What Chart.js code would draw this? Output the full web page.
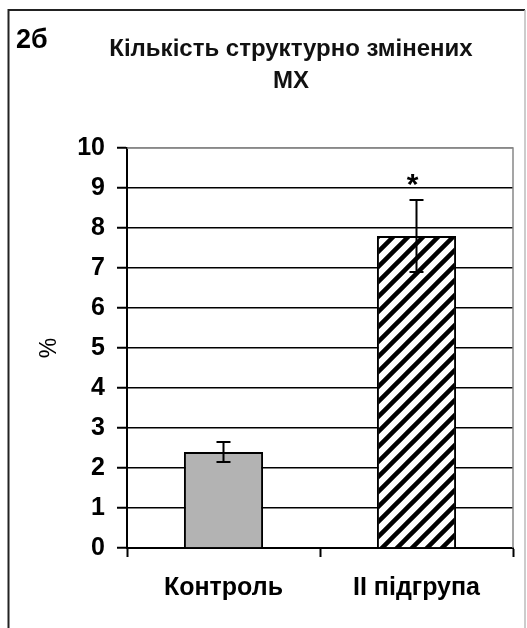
<!DOCTYPE html>
<html>
<head>
<meta charset="utf-8">
<script src="https://cdn.jsdelivr.net/npm/chart.js@4.4.0/dist/chart.umd.min.js"></script>
<style>
html,body{margin:0;padding:0;background:#fff;}
#wrap{width:527px;height:628px;position:relative;}
</style>
</head>
<body>
<div id="wrap"><canvas id="c" width="527" height="628"></canvas></div>
<script>
const categories = ['Контроль', 'II підгрупа'];
const values = [2.4, 7.8];
const errors = [0.25, 0.9];
const significance = ['', '*'];
const yTicks = [0, 1, 2, 3, 4, 5, 6, 7, 8, 9, 10];
const titleLines = ['Кількість структурно змінених', 'МХ'];
const panelLabel = '2б';
const yLabel = '%';

const FONT = '"Liberation Sans", Arial, sans-serif';

function hatchPattern() {
  const s = 15;
  const c = document.createElement('canvas');
  c.width = s; c.height = s;
  const g = c.getContext('2d');
  g.fillStyle = '#fff';
  g.fillRect(0, 0, s, s);
  g.strokeStyle = '#000';
  g.lineWidth = 4.5;
  g.beginPath();
  g.moveTo(-s, s * 2); g.lineTo(s * 2, -s);
  g.moveTo(-s * 2, s); g.lineTo(s, -s * 2);
  g.moveTo(0, s * 2); g.lineTo(s * 2, 0);
  g.moveTo(-s, s); g.lineTo(s, -s);
  g.moveTo(0, s); g.lineTo(s, 0);
  g.stroke();
  return g.createPattern(c, 'repeat');
}

const marks = {
  id: 'marks',
  beforeDraw(chart) {
    const ctx = chart.ctx;
    ctx.save();
    ctx.fillStyle = '#fff';
    ctx.fillRect(0, 0, chart.width, chart.height);
    ctx.restore();
  },
  afterDatasetsDraw(chart) {
    const ctx = chart.ctx;
    const meta = chart.getDatasetMeta(0);
    const y = chart.scales.y;
    const a = chart.chartArea;
    ctx.save();
    ctx.strokeStyle = '#888';
    ctx.lineWidth = 1.5;
    ctx.beginPath();
    ctx.moveTo(a.left, a.top);
    ctx.lineTo(a.right, a.top);
    ctx.lineTo(a.right, a.bottom);
    ctx.stroke();
    ctx.strokeStyle = '#000';
    ctx.lineWidth = 2;
    meta.data.forEach((bar, i) => {
      const x = bar.x;
      const yHi = y.getPixelForValue(values[i] + errors[i]);
      const yLo = y.getPixelForValue(values[i] - errors[i]);
      ctx.beginPath();
      ctx.moveTo(x, yHi); ctx.lineTo(x, yLo);
      ctx.moveTo(x - 7, yHi); ctx.lineTo(x + 7, yHi);
      ctx.moveTo(x - 7, yLo); ctx.lineTo(x + 7, yLo);
      ctx.stroke();
      if (significance[i]) {
        ctx.fillStyle = '#000';
        ctx.font = 'bold 30px ' + FONT;
        ctx.textAlign = 'center';
        ctx.textBaseline = 'alphabetic';
        ctx.fillText(significance[i], x - 4, yHi - 6);
      }
    });
    ctx.restore();
  },
  afterDraw(chart) {
    const ctx = chart.ctx;
    ctx.save();
    ctx.lineWidth = 2;
    ctx.strokeStyle = '#222';
    ctx.beginPath();
    ctx.moveTo(8.5, chart.height);
    ctx.lineTo(8.5, 10);
    ctx.lineTo(525, 10);
    ctx.stroke();
    ctx.strokeStyle = '#bbb';
    ctx.lineWidth = 1.5;
    ctx.beginPath();
    ctx.moveTo(525, 10);
    ctx.lineTo(525, chart.height);
    ctx.stroke();
    ctx.fillStyle = '#000';
    ctx.textBaseline = 'alphabetic';
    ctx.font = 'bold 27px ' + FONT;
    ctx.textAlign = 'left';
    ctx.fillText(panelLabel, 16, 48);
    ctx.fillStyle = '#111';
    ctx.textAlign = 'center';
    ctx.font = 'bold 24px ' + FONT;
    ctx.fillText(titleLines[0], 291, 56);
    ctx.fillText(titleLines[1], 291, 88);
    ctx.restore();
  }
};

new Chart(document.getElementById('c'), {
  type: 'bar',
  data: {
    labels: categories,
    datasets: [{
      data: values,
      backgroundColor: ['#b3b3b3', hatchPattern()],
      borderColor: '#000',
      borderWidth: 2,
      barPercentage: 0.41,
      categoryPercentage: 1.0
    }]
  },
  options: {
    responsive: false,
    animation: false,
    events: [],
    layout: { padding: { top: 148, right: 14, left: 0, bottom: 0 } },
    plugins: { legend: { display: false }, tooltip: { enabled: false }, title: { display: false } },
    scales: {
      x: {
        grid: { offset: true, drawOnChartArea: false, tickLength: 9, tickColor: '#000', tickWidth: 2 },
        border: { display: true, color: '#000', width: 2 },
        ticks: { color: '#000', font: { family: FONT, size: 25, weight: 'bold' }, padding: 16, maxRotation: 0 },
        afterFit(s) { s.height = 80; }
      },
      y: {
        min: 0, max: 10,
        afterBuildTicks(s) { s.ticks = yTicks.map(v => ({ value: v })); },
        grid: {
          color: ctx => (ctx.tick && ctx.tick.value === 10) ? '#888' : '#000',
          lineWidth: 1.5, tickLength: 10, tickColor: '#000', tickWidth: 2
        },
        border: { display: true, color: '#000', width: 2 },
        ticks: { color: '#000', font: { family: FONT, size: 25, weight: 'bold' }, padding: 12 },
        title: { display: true, text: yLabel, color: '#000', font: { family: FONT, size: 23 }, padding: { top: 36, bottom: 0 } },
        afterFit(s) { s.width = 127; }
      }
    }
  },
  plugins: [marks]
});
</script>
</body>
</html>
